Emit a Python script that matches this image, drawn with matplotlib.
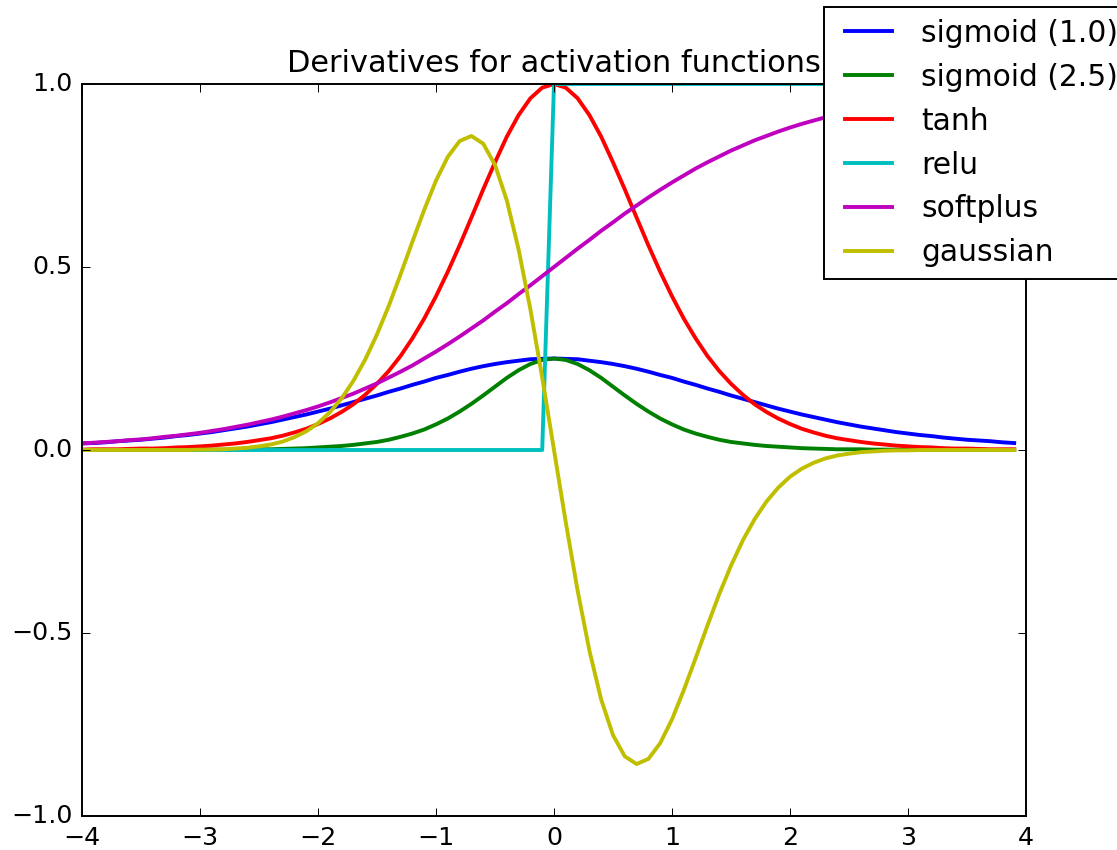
import matplotlib
matplotlib.use("Agg")
import matplotlib.pyplot as plt

# ── Data ──────────────────────────────────────────────────
x = [-4.0, -3.9, -3.8, -3.7, -3.6, -3.5, -3.4, -3.3, -3.2, -3.1,
     -3.0, -2.9, -2.8, -2.7, -2.6, -2.5, -2.4, -2.3, -2.2, -2.1,
     -2.0, -1.9, -1.8, -1.7, -1.6, -1.5, -1.4, -1.3, -1.2, -1.1,
     -1.0, -0.9, -0.8, -0.7, -0.6, -0.5, -0.4, -0.3, -0.2, -0.1,
     0.0, 0.1, 0.2, 0.3, 0.4, 0.5, 0.6, 0.7, 0.8, 0.9,
     1.0, 1.1, 1.2, 1.3, 1.4, 1.5, 1.6, 1.7, 1.8, 1.9,
     2.0, 2.1, 2.2, 2.3, 2.4, 2.5, 2.6, 2.7, 2.8, 2.9,
     3.0, 3.1, 3.2, 3.3, 3.4, 3.5, 3.6, 3.7, 3.8, 3.9]

sigmoid_10 = [.018, .019, .021, .024, .026, .028, .031, .034, .038, .041,
              .045, .049, .054, .059, .064, .070, .076, .083, .090, .097,
              .105, .113, .122, .131, .140, .149, .159, .168, .178, .187,
              .197, .205, .214, .222, .229, .235, .240, .244, .248, .249,
              .250, .249, .248, .244, .240, .235, .229, .222, .214, .205,
              .197, .187, .178, .168, .159, .149, .140, .131, .122, .113,
              .105, .097, .090, .083, .076, .070, .064, .059, .054, .049,
              .045, .041, .038, .034, .031, .028, .026, .024, .021, .019]

sigmoid_25 = [0, 0, 0, 0, 0, 0, 0, 0, 0, 0,
              .001, .001, .001, .001, .002, .002, .002, .003, .004, .005,
              .007, .009, .011, .014, .018, .022, .028, .036, .045, .056,
              .070, .086, .105, .126, .149, .173, .197, .218, .235, .246,
              .250, .246, .235, .218, .197, .173, .149, .126, .105, .086,
              .070, .056, .045, .036, .028, .022, .018, .014, .011, .009,
              .007, .005, .004, .003, .002, .002, .002, .001, .001, .001,
              .001, 0, 0, 0, 0, 0, 0, 0, 0, 0]

tanh_d = [.001, .002, .002, .002, .003, .004, .004, .005, .007, .008,
          .010, .012, .015, .018, .022, .027, .032, .039, .048, .058,
          .071, .086, .104, .125, .151, .181, .216, .257, .305, .359,
          .420, .487, .559, .635, .712, .786, .856, .915, .961, .990,
          1.000, .990, .961, .915, .856, .786, .712, .635, .559, .487,
          .420, .359, .305, .257, .216, .181, .151, .125, .104, .086,
          .071, .058, .048, .039, .032, .027, .022, .018, .015, .012,
          .010, .008, .007, .005, .004, .004, .003, .002, .002, .002]

relu_d = [0, 0, 0, 0, 0, 0, 0, 0, 0, 0,
          0, 0, 0, 0, 0, 0, 0, 0, 0, 0,
          0, 0, 0, 0, 0, 0, 0, 0, 0, 0,
          0, 0, 0, 0, 0, 0, 0, 0, 0, 0,
          1, 1, 1, 1, 1, 1, 1, 1, 1, 1,
          1, 1, 1, 1, 1, 1, 1, 1, 1, 1,
          1, 1, 1, 1, 1, 1, 1, 1, 1, 1,
          1, 1, 1, 1, 1, 1, 1, 1, 1, 1]

softplus_d = [.018, .020, .022, .024, .027, .029, .032, .036, .039, .043,
              .047, .052, .057, .063, .069, .076, .083, .091, .100, .109,
              .119, .130, .142, .154, .168, .182, .198, .214, .231, .250,
              .269, .289, .310, .332, .354, .378, .401, .426, .450, .475,
              .500, .525, .550, .574, .599, .622, .646, .668, .690, .711,
              .731, .750, .769, .786, .802, .818, .832, .846, .858, .870,
              .881, .891, .900, .909, .917, .924, .931, .937, .943, .948,
              .953, .957, .961, .964, .968, .971, .973, .976, .978, .980]

gaussian_d = [0, 0, 0, 0, 0, 0, 0, 0, 0, 0,
              .001, .001, .002, .004, .006, .010, .015, .023, .035, .051,
              .073, .103, .141, .189, .247, .316, .394, .480, .569, .656,
              .736, .801, .844, .858, .837, .779, .682, .548, .384, .198,
              0, -.198, -.384, -.548, -.682, -.779, -.837, -.858, -.844, -.801,
              -.736, -.656, -.569, -.480, -.394, -.316, -.247, -.189, -.141, -.103,
              -.073, -.051, -.035, -.023, -.015, -.010, -.006, -.004, -.002, -.001,
              -.001, 0, 0, 0, 0, 0, 0, 0, 0, 0]

series = [
    ("sigmoid (1.0)", sigmoid_10, "b"),
    ("sigmoid (2.5)", sigmoid_25, "g"),
    ("tanh", tanh_d, "r"),
    ("relu", relu_d, "c"),
    ("softplus", softplus_d, "m"),
    ("gaussian", gaussian_d, "y"),
]

# ── Plot ─────────────────────────────────────────────────
plt.style.use("classic")
plt.rcParams["font.family"] = ["DejaVu Sans"]
plt.rcParams["font.size"] = 13

DPI = 140
fig = plt.figure(figsize=(1117 / DPI, 850 / DPI), dpi=DPI, facecolor="white")
ax = fig.add_axes([82 / 1117, 34 / 850, (1026 - 82) / 1117, (816 - 84) / 850])

for label, ys, col in series:
    ax.plot(x, ys, color=col, linewidth=2, label=label)

ax.set_xlim(-4, 4)
ax.set_ylim(-1, 1)
ax.set_xticks([-4, -3, -2, -1, 0, 1, 2, 3, 4])
ax.set_yticks([-1.0, -0.5, 0.0, 0.5, 1.0])
ax.tick_params(labelsize=13, pad=5)
ax.set_title("Derivatives for activation functions", fontsize=15.6, pad=6)

ax.legend(loc="upper left", bbox_to_anchor=(824 / 1117, 1 - 7 / 850),
          bbox_transform=fig.transFigure, borderaxespad=0,
          fontsize=15.3, handlelength=2.17, handletextpad=0.7,
          numpoints=2)

fig.savefig("out.png", dpi=DPI, facecolor="white")
